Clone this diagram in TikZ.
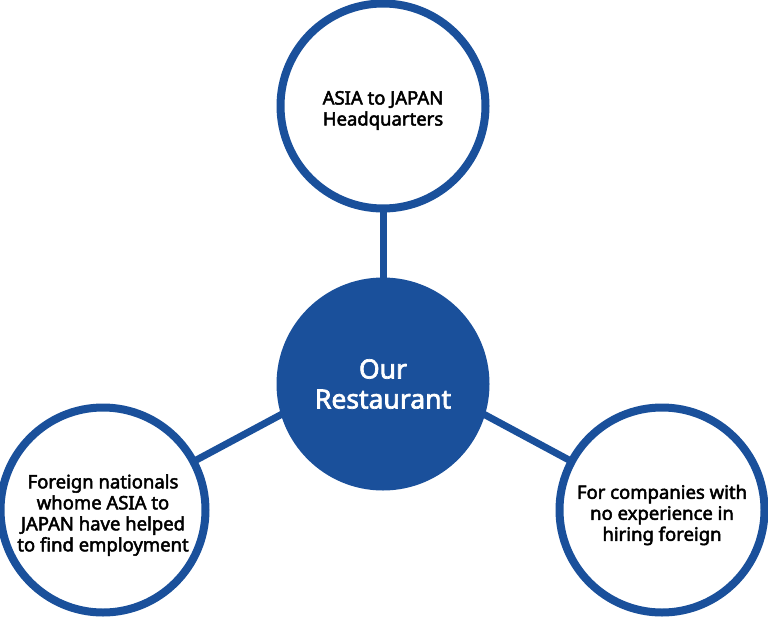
\documentclass[tikz,border=0pt]{standalone}
\usepackage{fontspec}
\setmainfont{Noto Sans}[RawFeature={embolden=2.6}]
\usetikzlibrary{backgrounds}
\definecolor{brandblue}{RGB}{26,80,155}
\begin{document}
\begin{tikzpicture}[x=1pt,y=-1pt,
  ring/.style={circle,draw=brandblue,line width=8pt,fill=white,minimum size=205pt,inner sep=0pt},
  ringtext/.style={align=center,inner sep=0pt,font=\fontsize{18.5}{21}\selectfont,text=black},
  hub/.style={circle,fill=brandblue,minimum size=213pt,inner sep=0pt,align=center,font=\fontsize{26.5}{30}\selectfont,text=white},
  link/.style={draw=brandblue,line width=7pt}]
\useasboundingbox (0,0) rectangle (768,616);
\coordinate (aim) at (383,360);
\node[hub] (C) at (383,384) {Our\\Restaurant};
\node[ring] (T) at (383,106) {};
\node[ring] (L) at (103,510) {};
\node[ring] (R) at (662,510) {};
\node[ringtext] (Ttext) at (383,110.5) {ASIA to JAPAN\\Headquarters};
\node[ringtext] (Ltext) at (103,515) {Foreign nationals\\whome ASIA to\\JAPAN have helped\\to find employment};
\node[ringtext] (Rtext) at (662,515) {For companies with\\no experience in\\hiring foreign};
\begin{scope}[on background layer]
\path[link] (T.center) -- (C.center);
\path[link] (L.center) -- (aim);
\path[link] (R.center) -- (aim);
\end{scope}
\end{tikzpicture}
\end{document}
